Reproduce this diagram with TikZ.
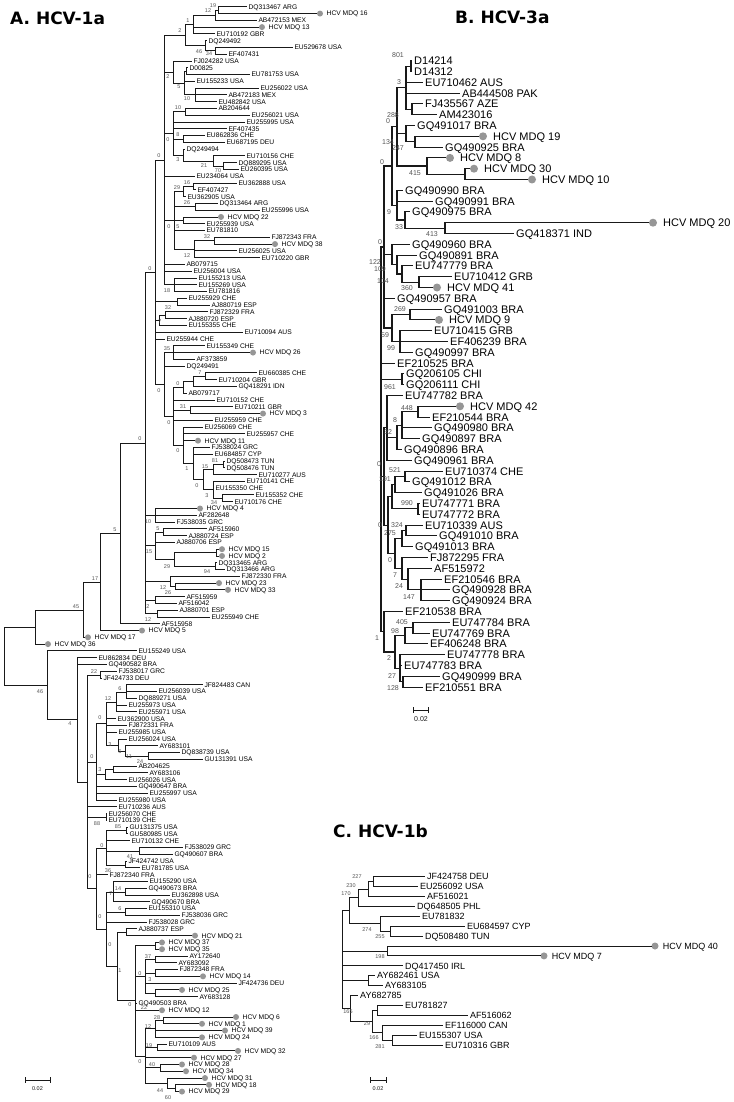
\documentclass[tikz,border=0pt]{standalone}
\usepackage{fontspec}
\setmainfont{Liberation Sans}
\newfontfamily\headfont{DejaVu Sans}
\definecolor{dotc}{RGB}{150,150,150}
\definecolor{bsc}{RGB}{85,85,85}
\definecolor{ln}{RGB}{25,25,25}
% leaves: name, row, tip x, label
\newcommand\lfA[4]{\coordinate (#1) at (#3,{6.78*#2}); \node[labA] at (#1) {#4};}
\newcommand\ldA[4]{\coordinate (#1) at ({#3-3},{6.78*#2}); \fill[dotc] (#3,{6.78*#2}) circle[radius=3pt]; \node[labA,xshift=8.2pt] at (#1) {#4};}
\newcommand\lfB[4]{\coordinate (#1) at (#3,{49.9+10.8*#2}); \node[labB] at (#1) {#4};}
\newcommand\ldB[4]{\coordinate (#1) at ({#3-4},{49.9+10.8*#2}); \fill[dotc] (#3,{49.9+10.8*#2}) circle[radius=4pt]; \node[labB,xshift=12pt] at (#1) {#4};}
\newcommand\lfC[4]{\coordinate (#1) at (#3,{866.8+9.9*#2}); \node[labC] at (#1) {#4};}
\newcommand\ldC[4]{\coordinate (#1) at ({#3-3.5},{866.8+9.9*#2}); \fill[dotc] (#3,{866.8+9.9*#2}) circle[radius=3.5pt]; \node[labC,xshift=9.2pt] at (#1) {#4};}
\newcommand\nd[3]{\coordinate (#1) at (#2,#3);}
\newcommand\br[2]{\foreach \ch in {#2}{\draw[edge] (#1) |- (\ch);}}
\newcommand\ba[3]{\node[bsA] at (#1,#2) {#3};}
\newcommand\bb[3]{\node[bsB] at (#1,#2) {#3};}
\newcommand\bc[3]{\node[bsC] at (#1,#2) {#3};}
\begin{document}
\begin{tikzpicture}[x=1pt,y=-1pt,
  edge/.style={draw=ln,line width=0.9pt},
  labA/.style={anchor=west,inner sep=0pt,font=\fontsize{6.7}{7}\selectfont,text height=4.8pt,text depth=0pt,xshift=1.3pt},
  labB/.style={anchor=west,inner sep=0pt,font=\fontsize{11}{12}\selectfont,text height=7.9pt,text depth=0pt,xshift=2pt},
  labC/.style={anchor=west,inner sep=0pt,font=\fontsize{9}{10}\selectfont,text height=6.45pt,text depth=0pt,xshift=2pt},
  bsA/.style={font=\fontsize{5.5}{6}\selectfont,text=bsc,inner sep=0pt},
  bsB/.style={font=\fontsize{7}{8}\selectfont,text=bsc,inner sep=0pt},
  bsC/.style={font=\fontsize{5.5}{6}\selectfont,text=bsc,inner sep=0pt},
  head/.style={anchor=base west,inner sep=0pt,font=\headfont\bfseries\fontsize{17}{20}\selectfont},
  sbar/.style={draw=ln,line width=0.9pt}]
\fill[white] (0,0) rectangle (733,1102);
\path[use as bounding box] (0,0) rectangle (733,1102);
% ================= headers
\node[head] (hA) at (10,25) {A. HCV-1a};
\node[head] (hB) at (455,24) {B. HCV-3a};
\node[head] (hC) at (333,837) {C. HCV-1b};
% ================= PANEL A leaves
\lfA{a1}{1}{247}{DQ313467 ARG}
\ldA{a2}{2}{320}{HCV MDQ 16}
\lfA{a3}{3}{257}{AB472153 MEX}
\ldA{a4}{4}{262}{HCV MDQ 13}
\lfA{a5}{5}{215}{EU710192 GBR}
\lfA{a6}{6}{207}{DQ249492}
\lfA{a7}{7}{293}{EU529678 USA}
\lfA{a8}{8}{227}{EF407431}
\lfA{a9}{9}{192}{FJ024282 USA}
\lfA{a10}{10}{188}{D00825}
\lfA{a11}{11}{250}{EU781753 USA}
\lfA{a12}{12}{195}{EU155233 USA}
\lfA{a13}{13}{259}{EU256022 USA}
\lfA{a14}{14}{227}{AB472183 MEX}
\lfA{a15}{15}{217}{EU482842 USA}
\lfA{a16}{16}{217}{AB204644}
\lfA{a17}{17}{250}{EU256021 USA}
\lfA{a18}{18}{245}{EU255995 USA}
\lfA{a19}{19}{227}{EF407435}
\lfA{a20}{20}{205}{EU862836 CHE}
\lfA{a21}{21}{225}{EU687195 DEU}
\lfA{a22}{22}{185}{DQ249494}
\lfA{a23}{23}{245}{EU710156 CHE}
\lfA{a24}{24}{237}{DQ889295 USA}
\lfA{a25}{25}{239}{EU260395 USA}
\lfA{a26}{26}{195}{EU234064 USA}
\lfA{a27}{27}{237}{EU362888 USA}
\lfA{a28}{28}{196}{EF407427}
\lfA{a29}{29}{186}{EU362905 USA}
\lfA{a30}{30}{218}{DQ313464 ARG}
\lfA{a31}{31}{260}{EU255996 USA}
\ldA{a32}{32}{221}{HCV MDQ 22}
\lfA{a33}{33}{205}{EU255939 USA}
\lfA{a34}{34}{205}{EU781810}
\lfA{a35}{35}{270}{FJ872343 FRA}
\ldA{a36}{36}{275}{HCV MDQ 38}
\lfA{a37}{37}{237}{EU256025 USA}
\lfA{a38}{38}{260}{EU710220 GBR}
\lfA{a39}{39}{185}{AB079715}
\lfA{a40}{40}{192}{EU256004 USA}
\lfA{a41}{41}{197}{EU155213 USA}
\lfA{a42}{42}{197}{EU155269 USA}
\lfA{a43}{43}{207}{EU781816}
\lfA{a44}{44}{187}{EU255929 CHE}
\lfA{a45}{45}{210}{AJ880719 ESP}
\lfA{a46}{46}{208}{FJ872329 FRA}
\lfA{a47}{47}{187}{AJ880720 ESP}
\lfA{a48}{48}{187}{EU155355 CHE}
\lfA{a49}{49}{243}{EU710094 AUS}
\lfA{a50}{50}{165}{EU255944 CHE}
\lfA{a51}{51}{205}{EU155349 CHE}
\ldA{a52}{52}{253}{HCV MDQ 26}
\lfA{a53}{53}{195}{AF373859}
\lfA{a54}{54}{185}{DQ249491}
\lfA{a55}{55}{257}{EU660385 CHE}
\lfA{a56}{56}{217}{EU710204 GBR}
\lfA{a57}{57}{237}{GQ418291 IDN}
\lfA{a58}{58}{187}{AB079717}
\lfA{a59}{59}{215}{EU710152 CHE}
\lfA{a60}{60}{233}{EU710211 GBR}
\ldA{a61}{61}{263}{HCV MDQ 3}
\lfA{a62}{62}{213}{EU255959 CHE}
\lfA{a63}{63}{203}{EU256069 CHE}
\lfA{a64}{64}{245}{EU255957 CHE}
\ldA{a65}{65}{198}{HCV MDQ 11}
\lfA{a66}{66}{210}{FJ538024 GRC}
\lfA{a67}{67}{213}{EU684857 CYP}
\lfA{a68}{68}{225}{DQ508473 TUN}
\lfA{a69}{69}{225}{DQ508476 TUN}
\lfA{a70}{70}{257}{EU710277 AUS}
\lfA{a71}{71}{245}{EU710141 CHE}
\lfA{a72}{72}{214}{EU155350 CHE}
\lfA{a73}{73}{254}{EU155352 CHE}
\lfA{a74}{74}{233}{EU710176 CHE}
\ldA{a75}{75}{200}{HCV MDQ 4}
\lfA{a76}{76}{197}{AF282648}
\lfA{a77}{77}{175}{FJ538035 GRC}
\lfA{a78}{78}{207}{AF515960}
\lfA{a79}{79}{187}{AJ880724 ESP}
\lfA{a80}{80}{175}{AJ880706 ESP}
\ldA{a81}{81}{222}{HCV MDQ 15}
\ldA{a82}{82}{222}{HCV MDQ 2}
\lfA{a83}{83}{217}{DQ313465 ARG}
\lfA{a84}{84}{225}{DQ313466 ARG}
\lfA{a85}{85}{240}{FJ872330 FRA}
\ldA{a86}{86}{219}{HCV MDQ 23}
\ldA{a87}{87}{228}{HCV MDQ 33}
\lfA{a88}{88}{185}{AF515959}
\lfA{a89}{89}{177}{AF516042}
\lfA{a90}{90}{178}{AJ880701 ESP}
\lfA{a91}{91}{210}{EU255949 CHE}
\lfA{a92}{92}{160}{AF515958}
\ldA{a93}{93}{142}{HCV MDQ 5}
\ldA{a94}{94}{88}{HCV MDQ 17}
\ldA{a95}{95}{48}{HCV MDQ 36}
\lfA{a96}{96}{137}{EU155249 USA}
\lfA{a97}{97}{97}{EU862834 DEU}
\lfA{a98}{98}{107}{GQ490582 BRA}
\lfA{a99}{99}{117}{FJ538017 GRC}
\lfA{a100}{100}{102}{JF424733 DEU}
\lfA{a101}{101}{203}{JF824483 CAN}
\lfA{a102}{102}{157}{EU256039 USA}
\lfA{a103}{103}{137}{DQ889271 USA}
\lfA{a104}{104}{127}{EU255973 USA}
\lfA{a105}{105}{137}{EU255971 USA}
\lfA{a106}{106}{116}{EU362900 USA}
\lfA{a107}{107}{127}{FJ872331 FRA}
\lfA{a108}{108}{117}{EU255985 USA}
\lfA{a109}{109}{127}{EU256024 USA}
\lfA{a110}{110}{158}{AY683101}
\lfA{a111}{111}{180}{DQ838739 USA}
\lfA{a112}{112}{203}{GU131391 USA}
\lfA{a113}{113}{137}{AB204625}
\lfA{a114}{114}{148}{AY683106}
\lfA{a115}{115}{127}{EU256026 USA}
\lfA{a116}{116}{137}{GQ490647 BRA}
\lfA{a117}{117}{148}{EU255997 USA}
\lfA{a118}{118}{117}{EU255980 USA}
\lfA{a119}{119}{117}{EU710236 AUS}
\lfA{a120}{120}{107}{EU256070 CHE}
\lfA{a121}{121}{107}{EU710139 CHE}
\lfA{a122}{122}{128}{GU131375 USA}
\lfA{a123}{123}{128}{GU580985 USA}
\lfA{a124}{124}{130}{EU710132 CHE}
\lfA{a125}{125}{183}{FJ538029 GRC}
\lfA{a126}{126}{173}{GQ490607 BRA}
\lfA{a127}{127}{127}{JF424742 USA}
\lfA{a128}{128}{140}{EU781785 USA}
\lfA{a129}{129}{108}{FJ872340 FRA}
\lfA{a130}{130}{148}{EU155290 USA}
\lfA{a131}{131}{147}{GQ490673 BRA}
\lfA{a132}{132}{170}{EU362898 USA}
\lfA{a133}{133}{150}{GQ490670 BRA}
\lfA{a134}{134}{147}{EU155310 USA}
\lfA{a135}{135}{180}{FJ538036 GRC}
\lfA{a136}{136}{147}{FJ538028 GRC}
\lfA{a137}{137}{137}{AJ880737 ESP}
\ldA{a138}{138}{195}{HCV MDQ 21}
\ldA{a139}{139}{162}{HCV MDQ 37}
\ldA{a140}{140}{162}{HCV MDQ 35}
\lfA{a141}{141}{188}{AY172640}
\lfA{a142}{142}{177}{AY683092}
\lfA{a143}{143}{178}{FJ872348 FRA}
\ldA{a144}{144}{203}{HCV MDQ 14}
\lfA{a145}{145}{237}{JF424736 DEU}
\ldA{a146}{146}{182}{HCV MDQ 25}
\lfA{a147}{147}{198}{AY683128}
\lfA{a148}{148}{137}{GQ490503 BRA}
\ldA{a149}{149}{162}{HCV MDQ 12}
\ldA{a150}{150}{236}{HCV MDQ 6}
\ldA{a151}{151}{202}{HCV MDQ 1}
\ldA{a152}{152}{225}{HCV MDQ 39}
\ldA{a153}{153}{202}{HCV MDQ 24}
\lfA{a154}{154}{167}{EU710109 AUS}
\ldA{a155}{155}{238}{HCV MDQ 32}
\ldA{a156}{156}{194}{HCV MDQ 27}
\ldA{a157}{157}{182}{HCV MDQ 28}
\ldA{a158}{158}{186}{HCV MDQ 34}
\ldA{a159}{159}{205}{HCV MDQ 31}
\ldA{a160}{160}{209}{HCV MDQ 18}
\ldA{a161}{161}{182}{HCV MDQ 29}
% ---- panel A internal nodes
\nd{n19}{218}{10.2} \br{n19}{a1,a2}
\nd{n12}{215}{15.3} \br{n12}{n19,a3}
\nd{n1}{193}{24.6} \br{n1}{n12,a4,a5}
\nd{n34}{215}{50.8} \br{n34}{a7,a8}
\nd{n46}{205}{45.8} \br{n46}{a6,n34}
\nd{nA2}{185}{35.2} \br{nA2}{n1,n46}
\nd{nD}{186}{71.2} \br{nD}{a10,a11}
\nd{n10}{195}{94.9} \br{n10}{a13,a14,a15}
\nd{n5}{184}{83.1} \br{n5}{nD,a12,n10}
\nd{nB2}{173}{72.1} \br{nB2}{a9,n5}
\nd{n10b}{185}{111.9} \br{n10b}{a16,a17}
\nd{n8}{183}{139} \br{n8}{a20,a21}
\nd{n70}{223}{166.1} \br{n70}{a24,a25}
\nd{n21}{213}{161} \br{n21}{a23,n70}
\nd{n3}{183}{155.1} \br{n3}{a22,n21}
\nd{n0a}{173}{133.5} \br{n0a}{n10b,a18,a19,n8,n3}
\nd{n16}{193}{186.4} \br{n16}{a27,a28}
\nd{n29}{183}{191.5} \br{n29}{n16,a29}
\nd{n26}{195}{206.8} \br{n26}{a30,a31}
\nd{n5b}{183}{220.4} \br{n5b}{a32,a33}
\nd{n32}{214}{240.7} \br{n32}{a35,a36}
\nd{n12b}{194}{249.2} \br{n12b}{n32,a37,a38}
\nd{n0b}{174}{220.3} \br{n0b}{n29,n26,n5b,a34,n12b}
\nd{n18}{174}{284.8} \br{n18}{a41,a42,a43}
\nd{N164}{164}{160} \br{N164}{nA2,nB2,n0a,a26,n0b,a39,a40,n18}
\nd{nE1}{177}{301.7} \br{nE1}{a44,a45}
\nd{n32c}{165}{315.3} \br{n32c}{a46,a47}
\nd{n7}{159}{320.4} \br{n7}{n32c,a48}
\nd{n35}{173}{352.6} \br{n35}{a51,a52,a53}
\nd{n7b}{205}{376.3} \br{n7b}{a55,a56}
\nd{n0ci}{193}{381.4} \br{n0ci}{n7b,a57}
\nd{n0c}{183}{387.3} \br{n0c}{n0ci,a58}
\nd{n31}{190}{410.2} \br{n31}{a60,a61}
\nd{n81}{223}{464.4} \br{n81}{a68,a69}
\nd{n15}{213}{469.5} \br{n15}{n81,a70}
\nd{n34b}{222}{498.3} \br{n34b}{a73,a74}
\nd{n3b}{213}{489.9} \br{n3b}{a71,a72,n34b}
\nd{n0g}{203}{479.7} \br{n0g}{n15,n3b}
\nd{n1b}{193}{463.6} \br{n1b}{a66,a67,n0g}
\nd{n0e}{183}{445.4} \br{n0e}{a63,a64,a65,n1b}
\nd{n0f}{173}{416.4} \br{n0f}{n0c,a59,n31,a62,n0e}
\nd{n0d}{164}{384.5} \br{n0d}{n35,a54,n0f}
\nd{N155}{155}{272.3} \br{N155}{N164,nE1,n7,a49,a50,n0d}
\nd{n10c}{155}{515.3} \br{n10c}{a75,a76,a77}
\nd{n5c}{163}{532.2} \br{n5c}{a78,a79}
\nd{n0z}{216}{552.6} \br{n0z}{a81,a82}
\nd{n94}{215}{566.1} \br{n94}{a83,a84}
\nd{n29b}{174}{559.4} \br{n29b}{n0z,n94}
\nd{n15b}{155}{545.8} \br{n15b}{n5c,a80,n29b}
\nd{n26b}{175}{586.4} \br{n26b}{a86,a87}
\nd{n12c}{170}{581.4} \br{n12c}{a85,n26b}
\nd{naf}{155}{600} \br{naf}{a88,a89}
\nd{n12d}{157}{613.6} \br{n12d}{a90,a91}
\nd{N145}{145}{443} \br{N145}{N155,n10c,n15b,n12c,naf,n12d}
\nd{N120}{120}{533.7} \br{N120}{N145,a92}
\nd{N100}{100}{582.5} \br{N100}{N120,a93}
\nd{N83}{83}{610.3} \br{N83}{N100,a94}
\nd{N36}{35}{627.6} \br{N36}{N83,a95}
\nd{n22}{100}{675.2} \br{n22}{a99,a100}
\nd{n6}{126}{692.2} \br{n6}{a101,a102,a103}
\nd{n12e}{116}{702.4} \br{n12e}{n6,a104,a105}
\nd{n24}{148}{756.3} \br{n24}{a111,a112}
\nd{n6b}{125}{751.2} \br{n6b}{a110,n24}
\nd{n3c}{118}{745.1} \br{n3c}{a109,n6b}
\nd{n0h}{106}{723.8} \br{n0h}{n12e,a106,a107,a108,n3c}
\nd{nAB}{113}{769.8} \br{nAB}{a113,a114}
\nd{n3d}{105}{774.9} \br{n3d}{nAB,a115}
\nd{n0i}{96}{762.1} \br{n0i}{n0h,n3d,a116,a117,a118}
\nd{n88}{106}{817} \br{n88}{a120,a121}
\nd{n85}{126}{830.6} \br{n85}{a122,a123}
\nd{nFJ}{139}{851.9} \br{nFJ}{a125,a126}
\nd{n41}{125}{865.5} \br{n41}{a127,a128}
\nd{n0j}{106}{848} \br{n0j}{n85,a124,nFJ,n41}
\nd{n14}{125}{892} \br{n14}{a131,a132}
\nd{n7c}{113}{892} \br{n7c}{a130,n14,a133}
\nd{n6c}{125}{912.3} \br{n6c}{a134,a135}
\nd{nAJ}{126}{932.3} \br{nAJ}{a137,a138}
\nd{n3735}{155}{945.8} \br{n3735}{a139,a140}
\nd{n37}{155}{959.4} \br{n37}{a141,a142}
\nd{n3e}{155}{973} \br{n3e}{a143,a144}
\nd{n22b}{155}{993.3} \br{n22b}{a146,a147}
\nd{n0k}{145}{976.4} \br{n0k}{n37,n3e,a145,n22b}
\nd{n28}{163}{1020.4} \br{n28}{a150,a151}
\nd{n12f}{155}{1028.9} \br{n12f}{n28,a152,a153}
\nd{n19b}{157}{1047.5} \br{n19b}{a154,a155}
\nd{n40}{160}{1067.9} \br{n40}{a157,a158}
\nd{n60}{175}{1088.2} \br{n60}{a160,a161}
\nd{n44}{167}{1083.1} \br{n44}{a159,n60}
\nd{n0l}{145}{1056} \br{n0l}{n12f,n19b,a156,n40,n44}
\nd{n0m}{135}{1000.9} \br{n0m}{n3735,n0k,a148,a149,n0l}
\nd{n1c}{117}{966.6} \br{n1c}{nAJ,n0m}
\nd{n0p}{106}{929.3} \br{n0p}{n7c,n6c,a136,n1c}
\nd{N96}{96}{888.7} \br{N96}{n0j,a129,n0p}
\nd{N87}{87}{782} \br{N87}{n22,n0i,a119,n88,N96}
\nd{N4}{77}{719.9} \br{N4}{a97,a98,N87}
\nd{N46}{47}{685.4} \br{N46}{a96,N4}
\nd{rA}{4}{656.5} \br{rA}{N36,N46}
% ---- panel A bootstrap values
\ba{213}{6}{19}\ba{208}{11}{12}\ba{188}{21}{1}\ba{180}{31}{2}\ba{199}{52}{46}\ba{209}{54}{34}
\ba{168}{77}{2}\ba{179}{87}{5}\ba{187}{99}{10}\ba{178}{108}{10}\ba{168}{140}{0}\ba{178}{135}{8}
\ba{178}{160}{3}\ba{204}{166}{21}\ba{218}{171}{70}\ba{159}{156}{0}\ba{187}{183}{16}\ba{177}{188}{29}
\ba{187}{203}{26}\ba{169}{227}{0}\ba{178}{227}{5}\ba{207}{237}{32}\ba{187}{256}{12}\ba{167}{291}{18}
\ba{150}{269}{0}\ba{168}{308}{32}\ba{160}{322}{7}\ba{167}{349}{35}\ba{200}{373}{7}\ba{178}{384}{0}
\ba{159}{391}{0}\ba{183}{407}{31}\ba{169}{423}{0}\ba{178}{451}{0}\ba{215}{461}{81}\ba{205}{467}{15}
\ba{187}{469}{1}\ba{197}{486}{0}\ba{207}{496}{3}\ba{214}{503}{34}\ba{140}{439}{0}\ba{148}{522}{10}
\ba{158}{529}{5}\ba{115}{530}{5}\ba{149}{552}{15}\ba{167}{567}{29}\ba{207}{572}{94}\ba{163}{588}{12}
\ba{168}{593}{26}\ba{148}{607}{2}\ba{148}{620}{12}\ba{95}{579}{17}\ba{76}{607}{45}\ba{40}{692}{46}
\ba{94}{672}{22}\ba{120}{689}{6}\ba{108}{699}{12}\ba{100}{718}{0}\ba{70}{724}{4}\ba{92}{757}{0}
\ba{110}{745}{3}\ba{120}{752}{6}\ba{129}{757}{11}\ba{140}{761.5}{24}\ba{100}{770}{3}\ba{97}{824}{88}
\ba{118}{827}{85}\ba{102}{846}{0}\ba{130}{857}{41}\ba{108}{871}{36}\ba{90}{877}{0}\ba{118}{889}{14}
\ba{111}{894}{7}\ba{120}{909}{6}\ba{100}{917}{0}\ba{110}{945}{0}\ba{120}{971}{1}\ba{148}{957}{37}
\ba{140}{974}{0}\ba{150}{980}{3}\ba{144}{1008}{22}\ba{130}{1005}{0}\ba{157}{1018}{28}\ba{148}{1027}{12}
\ba{149}{1046}{19}\ba{140}{1062}{0}\ba{152}{1065}{40}\ba{160}{1091}{44}\ba{168}{1098}{60}
% scale A
\draw[sbar] (25,1080) -- (50,1080) (25,1077) -- (25,1083) (50,1077) -- (50,1083);
\node[bsA,text=ln] (sA) at (37.5,1089) {0.02};
% ================= PANEL B leaves
\lfB{b1}{1}{412}{D14214}
\lfB{b2}{2}{412}{D14312}
\lfB{b3}{3}{423}{EU710462 AUS}
\lfB{b4}{4}{460}{AB444508 PAK}
\lfB{b5}{5}{423}{FJ435567 AZE}
\lfB{b6}{6}{437}{AM423016}
\lfB{b7}{7}{415}{GQ491017 BRA}
\ldB{b8}{8}{483}{HCV MDQ 19}
\lfB{b9}{9}{443}{GQ490925 BRA}
\ldB{b10}{10}{450}{HCV MDQ 8}
\ldB{b11}{11}{474}{HCV MDQ 30}
\ldB{b12}{12}{532}{HCV MDQ 10}
\lfB{b13}{13}{403}{GQ490990 BRA}
\lfB{b14}{14}{433}{GQ490991 BRA}
\lfB{b15}{15}{410}{GQ490975 BRA}
\ldB{b16}{16}{653}{HCV MDQ 20}
\lfB{b17}{17}{514}{GQ418371 IND}
\lfB{b18}{18}{410}{GQ490960 BRA}
\lfB{b19}{19}{417}{GQ490891 BRA}
\lfB{b20}{20}{413}{EU747779 BRA}
\lfB{b21}{21}{452}{EU710412 GRB}
\ldB{b22}{22}{437}{HCV MDQ 41}
\lfB{b23}{23}{395}{GQ490957 BRA}
\lfB{b24}{24}{442}{GQ491003 BRA}
\ldB{b25}{25}{439}{HCV MDQ 9}
\lfB{b26}{26}{432}{EU710415 GRB}
\lfB{b27}{27}{448}{EF406239 BRA}
\lfB{b28}{28}{413}{GQ490997 BRA}
\lfB{b29}{29}{395}{EF210525 BRA}
\lfB{b30}{30}{404}{GQ206105 CHI}
\lfB{b31}{31}{404}{GQ206111 CHI}
\lfB{b32}{32}{403}{EU747782 BRA}
\ldB{b33}{33}{460}{HCV MDQ 42}
\lfB{b34}{34}{430}{EF210544 BRA}
\lfB{b35}{35}{432}{GQ490980 BRA}
\lfB{b36}{36}{420}{GQ490897 BRA}
\lfB{b37}{37}{402}{GQ490896 BRA}
\lfB{b38}{38}{412}{GQ490961 BRA}
\lfB{b39}{39}{443}{EU710374 CHE}
\lfB{b40}{40}{410}{GQ491012 BRA}
\lfB{b41}{41}{422}{GQ491026 BRA}
\lfB{b42}{42}{420}{EU747771 BRA}
\lfB{b43}{43}{420}{EU747772 BRA}
\lfB{b44}{44}{423}{EU710339 AUS}
\lfB{b45}{45}{437}{GQ491010 BRA}
\lfB{b46}{46}{413}{GQ491013 BRA}
\lfB{b47}{47}{428}{FJ872295 FRA}
\lfB{b48}{48}{432}{AF515972}
\lfB{b49}{49}{442}{EF210546 BRA}
\lfB{b50}{50}{450}{GQ490928 BRA}
\lfB{b51}{51}{450}{GQ490924 BRA}
\lfB{b52}{52}{403}{EF210538 BRA}
\lfB{b53}{53}{450}{EU747784 BRA}
\lfB{b54}{54}{430}{EU747769 BRA}
\lfB{b55}{55}{428}{EF406248 BRA}
\lfB{b56}{56}{445}{EU747778 BRA}
\lfB{b57}{57}{402}{EU747783 BRA}
\lfB{b58}{58}{440}{GQ490999 BRA}
\lfB{b59}{59}{423}{EF210551 BRA}
% ---- panel B internal nodes
\begin{scope}[edge/.style={draw=ln,line width=1.1pt}]
\nd{m801}{411}{66.1} \br{m801}{b1,b2}
\nd{mFJ}{412}{109.3} \br{mFJ}{b5,b6}
\nd{m3}{406}{87.7} \br{m3}{m801,b3,b4,mFJ}
\nd{m247}{415}{141.7} \br{m247}{b8,b9}
\nd{m134}{406}{133.6} \br{m134}{b7,m247}
\nd{m3010}{465}{174.1} \br{m3010}{b11,b12}
\nd{m415}{427}{166} \br{m415}{b10,m3010}
\nd{m0a}{397}{126.9} \br{m0a}{m3,m134,m415}
\nd{m413}{445}{228.1} \br{m413}{b16,b17}
\nd{m33}{405}{220} \br{m33}{b15,m413}
\nd{m9}{397}{205.2} \br{m9}{b13,b14,m33}
\nd{m0b}{392}{166} \br{m0b}{m0a,m9}
\nd{m360}{419}{282.1} \br{m360}{b21,b22}
\nd{m104}{402}{274} \br{m104}{b20,m360}
\nd{m109}{397}{264.6} \br{m109}{b19,m104}
\nd{m122}{392}{254.4} \br{m122}{b18,m109}
\nd{m269}{410}{314.5} \br{m269}{b24,b25}
\nd{m99}{400}{341.5} \br{m99}{b26,b27,b28}
\nd{m59}{392}{328} \br{m59}{m269,m99}
\nd{m0c}{384}{247} \br{m0c}{m0b,m122,b23,m59}
\nd{m961}{402}{379.3} \br{m961}{b30,b31}
\nd{m448}{418}{411.7} \br{m448}{b33,b34}
\nd{m8}{402}{425.2} \br{m8}{m448,b35,b36}
\nd{m32}{397}{437.4} \br{m32}{m8,b37}
\nd{m0d}{387}{427.9} \br{m0d}{b32,m32,b38}
\nd{m521}{405}{476.5} \br{m521}{b39,b40}
\nd{m191}{395}{484.6} \br{m191}{m521,b41}
\nd{m990}{418}{508.9} \br{m990}{b42,b43}
\nd{ms}{392}{496.8} \br{ms}{m191,m990}
\nd{m324}{406}{530.5} \br{m324}{b44,b45}
\nd{m275}{402}{538.6} \br{m275}{m324,b46}
\nd{m147}{421}{589.9} \br{m147}{b49,b50,b51}
\nd{m24}{408}{579.1} \br{m24}{b48,m147}
\nd{m7}{402}{568.3} \br{m7}{b47,m24}
\nd{m0e}{395}{553.5} \br{m0e}{m275,m7}
\nd{m0f}{388}{525.2} \br{m0f}{ms,m0e}
\nd{m0g}{384}{476.5} \br{m0g}{m0d,m0f}
\nd{m405}{413}{627.7} \br{m405}{b53,b54}
\nd{m98}{405}{635.8} \br{m98}{m405,b55}
\nd{m128}{403}{681.7} \br{m128}{b58,b59}
\nd{m27}{400}{668.2} \br{m27}{b56,b57,m128}
\nd{m2}{395}{652} \br{m2}{m98,m27}
\nd{m1}{384}{631.8} \br{m1}{b52,m2}
\nd{rB}{381}{439} \br{rB}{m0c,b29,m961,m0g,m1}
\end{scope}
% ---- panel B bootstrap
\bb{398}{55}{801}\bb{399}{82}{3}\bb{393}{115}{288}\bb{388}{121}{0}\bb{388}{142}{134}\bb{398}{148}{247}
\bb{382}{162}{0}\bb{415}{173}{415}\bb{389}{212}{9}\bb{399}{227}{33}\bb{432}{234}{413}\bb{380}{242}{0}
\bb{375}{262}{122}\bb{380}{269}{109}\bb{383}{281}{104}\bb{407}{288}{360}\bb{400}{309}{269}\bb{385}{335}{59}
\bb{391}{348}{99}\bb{390}{387}{961}\bb{407}{408}{448}\bb{395}{420}{8}\bb{388}{432}{32}\bb{379}{464}{0}
\bb{395}{470}{521}\bb{385}{479}{191}\bb{407}{503}{990}\bb{380}{525}{0}\bb{397}{525}{324}\bb{390}{533}{275}
\bb{390}{560}{0}\bb{395}{575}{7}\bb{399}{586}{24}\bb{409}{597}{147}\bb{402}{622}{405}\bb{395}{631}{98}
\bb{377}{638}{1}\bb{389}{658}{2}\bb{392}{676}{27}\bb{393}{688}{128}
% scale B
\draw[sbar] (413,710) -- (428,710) (413,707) -- (413,713) (428,707) -- (428,713);
\node[bsB,text=ln] (sB) at (421,719) {0.02};
% ================= PANEL C
\lfC{c1}{1}{425}{JF424758 DEU}
\lfC{c2}{2}{418}{EU256092 USA}
\lfC{c3}{3}{425}{AF516021}
\lfC{c4}{4}{415}{DQ648505 PHL}
\lfC{c5}{5}{420}{EU781832}
\lfC{c6}{6}{465}{EU684597 CYP}
\lfC{c7}{7}{423}{DQ508480 TUN}
\ldC{c8}{8}{655}{HCV MDQ 40}
\ldC{c9}{9}{544}{HCV MDQ 7}
\lfC{c10}{10}{403}{DQ417450 IRL}
\lfC{c11}{11}{375}{AY682461 USA}
\lfC{c12}{12}{383}{AY683105}
\lfC{c13}{13}{358}{AY682785}
\lfC{c14}{14}{403}{EU781827}
\lfC{c15}{15}{468}{AF516062}
\lfC{c16}{16}{443}{EF116000 CAN}
\lfC{c17}{17}{417}{EU155307 USA}
\lfC{c18}{18}{443}{EU710316 GBR}
\nd{kJF}{373}{881.7} \br{kJF}{c1,c2}
\nd{k227}{368}{889.1} \br{k227}{kJF,c3}
\nd{k230}{358}{897.8} \br{k230}{k227,c4}
\nd{k255}{390}{931.2} \br{k255}{c6,c7}
\nd{k274}{380}{923.8} \br{k274}{c5,k255}
\nd{k170}{349}{910.8} \br{k170}{k230,k274}
\nd{k198}{387}{951} \br{k198}{c8,c9}
\nd{kAY}{368}{980.7} \br{kAY}{c11,c12}
\nd{kEA}{377}{1010.4} \br{kEA}{c14,c15}
\nd{k281}{392}{1040} \br{k281}{c17,c18}
\nd{k166}{382}{1032.6} \br{k166}{c16,k281}
\nd{k29}{372}{1021.5} \br{k29}{kEA,k166}
\nd{k165}{350}{1008.5} \br{k165}{c13,k29}
\nd{rC}{342}{959.7} \br{rC}{k170,k198,c10,kAY,k165}
\bc{357}{877}{227}\bc{351}{886}{230}\bc{346}{894}{170}\bc{367}{930}{274}\bc{380}{937}{255}
\bc{380}{957}{198}\bc{348}{1012}{165}\bc{367}{1024}{29}\bc{374}{1038}{166}\bc{380}{1047}{281}
% scale C
\draw[sbar] (370,1080) -- (386,1080) (370,1077) -- (370,1083) (386,1077) -- (386,1083);
\node[bsC,text=ln] (sC) at (378,1089) {0.02};
\end{tikzpicture}
\end{document}
